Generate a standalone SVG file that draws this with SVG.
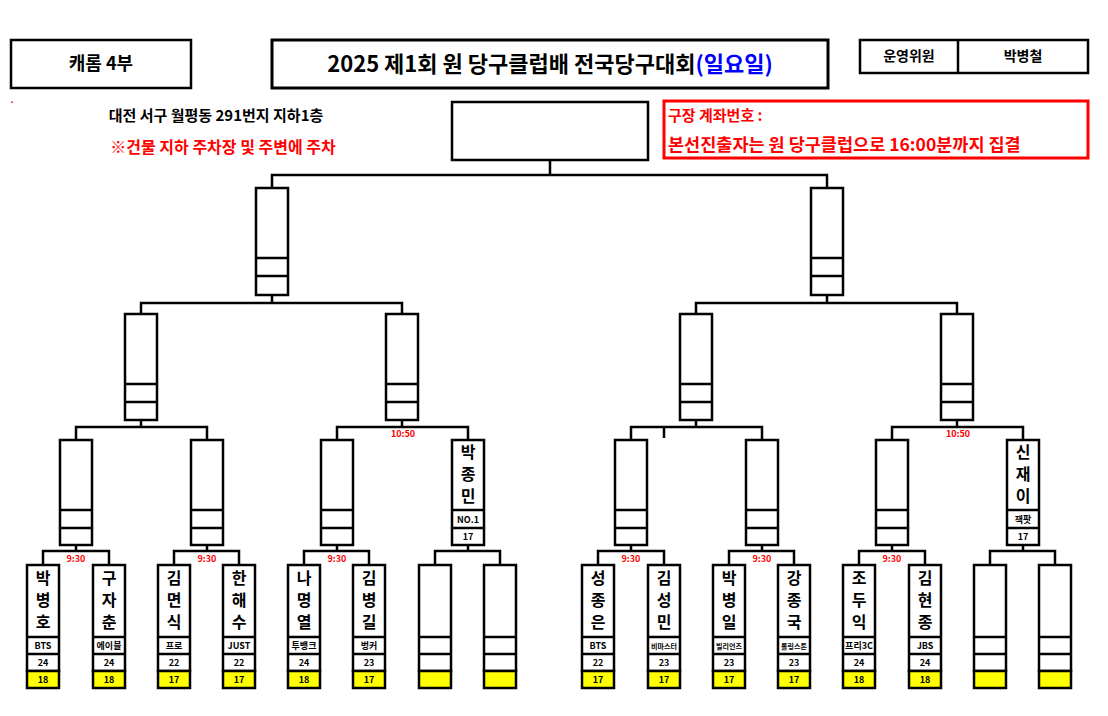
<svg xmlns="http://www.w3.org/2000/svg" width="1108" height="716" viewBox="0 0 1108 716">
<style>
text{font-family:"Noto Sans CJK KR","Noto Sans",sans-serif;font-weight:bold;text-anchor:middle}
.b{fill:#fff;stroke:#000;stroke-width:2.5}
.y{fill:#ff0;stroke:#000;stroke-width:2.5}
.c path{fill:none;stroke:#000;stroke-width:2.5}
.t{fill:#f00;font-size:9px}
.n{font-size:16px}
.s{font-size:9px}
.m{font-size:9px}
</style>
<rect width="1108" height="716" fill="#fff"/>
<g id="hdr">
<rect x="11" y="40" width="180" height="48" class="b"/>
<text x="101" y="70" font-size="18">캐롬 4부</text>
<rect x="272" y="40" width="556" height="48" fill="#fff" stroke="#000" stroke-width="3"/>
<text x="550" y="72" font-size="22">2025 제1회 원 당구클럽배 전국당구대회<tspan fill="#00f">(일요일)</tspan></text>
<rect x="860" y="40" width="228" height="33" class="b"/>
<line x1="958" y1="40" x2="958" y2="73" stroke="#000" stroke-width="2.5"/>
<text x="909" y="61" font-size="14">운영위원</text>
<text x="1023" y="61" font-size="14">박병철</text>
<text x="12" y="106" fill="#f00" font-size="6">*</text>
<text x="216" y="121" font-size="15">대전 서구 월평동 291번지 지하1층</text>
<text x="223" y="153" font-size="16" fill="#f00" font-weight="normal">※건물 지하 주차장 및 주변에 주차</text>
<rect x="664" y="101" width="424" height="57" fill="#fff" stroke="#f00" stroke-width="3"/>
<text x="668" y="121" font-size="15" fill="#f00" style="text-anchor:start">구장 계좌번호 :</text>
<text x="668" y="151" font-size="17.5" fill="#f00" style="text-anchor:start">본선진출자는 원 당구클럽으로 16:00분까지 집결</text>
<rect x="452" y="102" width="196" height="58" class="b"/>
</g>
<g class="c" id="connectors">
<path d="M550 160V175M272 188V175H827V188"/>
<path d="M272 295V303M141 314V303H402V314M827 295V303M696 314V303H957V314"/>
<path d="M141 420V427M76 440V427H207V440M402 420V427M337 440V427H468V440M696 420V427M631 440V427H762V440M664 427V438M957 420V427M892 440V427H1023V440"/>
<path d="M76 545V551M43 565V551H109V565M207 545V551M174 565V551H239V565M337 545V551M304 565V551H369V565M468 545V551M435 565V551H500V565M631 545V551M598 565V551H664V565M762 545V551M729 565V551H794V565M892 545V551M859 565V551H925V565M1023 545V551M990 565V551H1055V565"/>
</g>
<g id="times">
<text class="t" x="76" y="562">9:30</text><text class="t" x="207" y="562">9:30</text><text class="t" x="337" y="562">9:30</text>
<text class="t" x="631" y="562">9:30</text><text class="t" x="762" y="562">9:30</text><text class="t" x="892" y="562">9:30</text>
<text class="t" x="403" y="437">10:50</text><text class="t" x="958" y="437">10:50</text>
</g>
<g id="r4">
<g id="r4a"><rect x="256" y="188" width="32" height="107" class="b"/><path d="M256 258H288M256 276H288" stroke="#000" stroke-width="2.5"/></g>
<g id="r4b"><rect x="811" y="188" width="32" height="107" class="b"/><path d="M811 258H843M811 276H843" stroke="#000" stroke-width="2.5"/></g>
</g>
<g id="r3">
<g id="r3a"><rect x="125" y="314" width="32" height="106" class="b"/><path d="M125 384H157M125 402H157" stroke="#000" stroke-width="2.5"/></g>
<g id="r3b"><rect x="386" y="314" width="32" height="106" class="b"/><path d="M386 384H418M386 402H418" stroke="#000" stroke-width="2.5"/></g>
<g id="r3c"><rect x="680" y="314" width="32" height="106" class="b"/><path d="M680 384H712M680 402H712" stroke="#000" stroke-width="2.5"/></g>
<g id="r3d"><rect x="941" y="314" width="32" height="106" class="b"/><path d="M941 384H973M941 402H973" stroke="#000" stroke-width="2.5"/></g>
</g>
<g id="r2">
<g id="r2a"><rect x="60" y="440" width="32" height="105" class="b"/><path d="M60 510H92M60 528H92" stroke="#000" stroke-width="2.5"/></g>
<g id="r2b"><rect x="191" y="440" width="32" height="105" class="b"/><path d="M191 510H223M191 528H223" stroke="#000" stroke-width="2.5"/></g>
<g id="r2c"><rect x="321" y="440" width="32" height="105" class="b"/><path d="M321 510H353M321 528H353" stroke="#000" stroke-width="2.5"/></g>
<g id="r2d"><rect x="452" y="440" width="32" height="105" class="b"/><path d="M452 510H484M452 528H484" stroke="#000" stroke-width="2.5"/>
<text class="n" x="468" y="458">박</text><text class="n" x="468" y="480">종</text><text class="n" x="468" y="502">민</text><text class="m" x="468" y="523">NO.1</text><text class="m" x="468" y="540">17</text></g>
<g id="r2e"><rect x="615" y="440" width="32" height="105" class="b"/><path d="M615 510H647M615 528H647" stroke="#000" stroke-width="2.5"/></g>
<g id="r2f"><rect x="746" y="440" width="32" height="105" class="b"/><path d="M746 510H778M746 528H778" stroke="#000" stroke-width="2.5"/></g>
<g id="r2g"><rect x="876" y="440" width="32" height="105" class="b"/><path d="M876 510H908M876 528H908" stroke="#000" stroke-width="2.5"/></g>
<g id="r2h"><rect x="1007" y="440" width="32" height="105" class="b"/><path d="M1007 510H1039M1007 528H1039" stroke="#000" stroke-width="2.5"/>
<text class="n" x="1023" y="458">신</text><text class="n" x="1023" y="480">재</text><text class="n" x="1023" y="502">이</text><text class="m" x="1023" y="523">잭팟</text><text class="m" x="1023" y="540">17</text></g>
</g>
<g id="players">
<g id="p1"><rect x="27" y="565" width="32" height="106" class="b"/><rect x="27" y="671" width="32" height="17" class="y"/><path d="M27 637H59M27 654H59" stroke="#000" stroke-width="2.5"/><text class="n" x="43" y="584">박</text><text class="n" x="43" y="606">병</text><text class="n" x="43" y="628">호</text><text class="s" x="43" y="649">BTS</text><text class="s" x="43" y="666">24</text><text class="s" x="43" y="683">18</text></g>
<g id="p2"><rect x="93" y="565" width="32" height="106" class="b"/><rect x="93" y="671" width="32" height="17" class="y"/><path d="M93 637H125M93 654H125" stroke="#000" stroke-width="2.5"/><text class="n" x="109" y="584">구</text><text class="n" x="109" y="606">자</text><text class="n" x="109" y="628">춘</text><text class="s" x="109" y="649">에이블</text><text class="s" x="109" y="666">24</text><text class="s" x="109" y="683">18</text></g>
<g id="p3"><rect x="158" y="565" width="32" height="106" class="b"/><rect x="158" y="671" width="32" height="17" class="y"/><path d="M158 637H190M158 654H190" stroke="#000" stroke-width="2.5"/><text class="n" x="174" y="584">김</text><text class="n" x="174" y="606">면</text><text class="n" x="174" y="628">식</text><text class="s" x="174" y="649">프로</text><text class="s" x="174" y="666">22</text><text class="s" x="174" y="683">17</text></g>
<g id="p4"><rect x="223" y="565" width="32" height="106" class="b"/><rect x="223" y="671" width="32" height="17" class="y"/><path d="M223 637H255M223 654H255" stroke="#000" stroke-width="2.5"/><text class="n" x="239" y="584">한</text><text class="n" x="239" y="606">해</text><text class="n" x="239" y="628">수</text><text class="s" x="239" y="649">JUST</text><text class="s" x="239" y="666">22</text><text class="s" x="239" y="683">17</text></g>
<g id="p5"><rect x="288" y="565" width="32" height="106" class="b"/><rect x="288" y="671" width="32" height="17" class="y"/><path d="M288 637H320M288 654H320" stroke="#000" stroke-width="2.5"/><text class="n" x="304" y="584">나</text><text class="n" x="304" y="606">명</text><text class="n" x="304" y="628">열</text><text class="s" x="304" y="649">투뱅크</text><text class="s" x="304" y="666">24</text><text class="s" x="304" y="683">18</text></g>
<g id="p6"><rect x="353" y="565" width="32" height="106" class="b"/><rect x="353" y="671" width="32" height="17" class="y"/><path d="M353 637H385M353 654H385" stroke="#000" stroke-width="2.5"/><text class="n" x="369" y="584">김</text><text class="n" x="369" y="606">병</text><text class="n" x="369" y="628">길</text><text class="s" x="369" y="649">벙커</text><text class="s" x="369" y="666">23</text><text class="s" x="369" y="683">17</text></g>
<g id="p7"><rect x="419" y="565" width="32" height="106" class="b"/><rect x="419" y="671" width="32" height="17" class="y"/><path d="M419 637H451M419 654H451" stroke="#000" stroke-width="2.5"/></g>
<g id="p8"><rect x="484" y="565" width="32" height="106" class="b"/><rect x="484" y="671" width="32" height="17" class="y"/><path d="M484 637H516M484 654H516" stroke="#000" stroke-width="2.5"/></g>
<g id="p9"><rect x="582" y="565" width="32" height="106" class="b"/><rect x="582" y="671" width="32" height="17" class="y"/><path d="M582 637H614M582 654H614" stroke="#000" stroke-width="2.5"/><text class="n" x="598" y="584">성</text><text class="n" x="598" y="606">종</text><text class="n" x="598" y="628">은</text><text class="s" x="598" y="649">BTS</text><text class="s" x="598" y="666">22</text><text class="s" x="598" y="683">17</text></g>
<g id="p10"><rect x="648" y="565" width="32" height="106" class="b"/><rect x="648" y="671" width="32" height="17" class="y"/><path d="M648 637H680M648 654H680" stroke="#000" stroke-width="2.5"/><text class="n" x="664" y="584">김</text><text class="n" x="664" y="606">성</text><text class="n" x="664" y="628">민</text><text x="664" y="649" font-size="7">비마스터</text><text class="s" x="664" y="666">23</text><text class="s" x="664" y="683">17</text></g>
<g id="p11"><rect x="713" y="565" width="32" height="106" class="b"/><rect x="713" y="671" width="32" height="17" class="y"/><path d="M713 637H745M713 654H745" stroke="#000" stroke-width="2.5"/><text class="n" x="729" y="584">박</text><text class="n" x="729" y="606">병</text><text class="n" x="729" y="628">일</text><text x="729" y="649" font-size="7">빌리언즈</text><text class="s" x="729" y="666">23</text><text class="s" x="729" y="683">17</text></g>
<g id="p12"><rect x="778" y="565" width="32" height="106" class="b"/><rect x="778" y="671" width="32" height="17" class="y"/><path d="M778 637H810M778 654H810" stroke="#000" stroke-width="2.5"/><text class="n" x="794" y="584">강</text><text class="n" x="794" y="606">종</text><text class="n" x="794" y="628">국</text><text x="794" y="649" font-size="7">롤링스톤</text><text class="s" x="794" y="666">23</text><text class="s" x="794" y="683">17</text></g>
<g id="p13"><rect x="843" y="565" width="32" height="106" class="b"/><rect x="843" y="671" width="32" height="17" class="y"/><path d="M843 637H875M843 654H875" stroke="#000" stroke-width="2.5"/><text class="n" x="859" y="584">조</text><text class="n" x="859" y="606">두</text><text class="n" x="859" y="628">익</text><text class="s" x="859" y="649">프리3C</text><text class="s" x="859" y="666">24</text><text class="s" x="859" y="683">18</text></g>
<g id="p14"><rect x="909" y="565" width="32" height="106" class="b"/><rect x="909" y="671" width="32" height="17" class="y"/><path d="M909 637H941M909 654H941" stroke="#000" stroke-width="2.5"/><text class="n" x="925" y="584">김</text><text class="n" x="925" y="606">현</text><text class="n" x="925" y="628">종</text><text class="s" x="925" y="649">JBS</text><text class="s" x="925" y="666">24</text><text class="s" x="925" y="683">18</text></g>
<g id="p15"><rect x="974" y="565" width="32" height="106" class="b"/><rect x="974" y="671" width="32" height="17" class="y"/><path d="M974 637H1006M974 654H1006" stroke="#000" stroke-width="2.5"/></g>
<g id="p16"><rect x="1039" y="565" width="32" height="106" class="b"/><rect x="1039" y="671" width="32" height="17" class="y"/><path d="M1039 637H1071M1039 654H1071" stroke="#000" stroke-width="2.5"/></g>
</g>
</svg>
